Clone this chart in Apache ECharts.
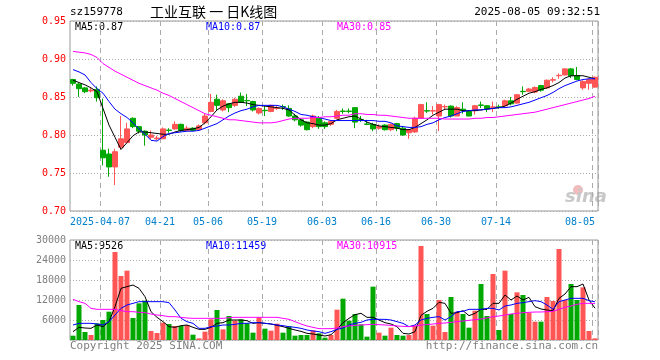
<!DOCTYPE html>
<html><head><meta charset="utf-8">
<script src="https://cdn.jsdelivr.net/npm/echarts@6/dist/echarts.min.js"></script>
<style>html,body{margin:0;padding:0;background:#fff}#c{width:660px;height:360px}</style>
</head><body><div id="c"></div>
<script>
const dates = ['2025-03-28','2025-03-31','2025-04-01','2025-04-02','2025-04-03','2025-04-07','2025-04-08','2025-04-09','2025-04-10','2025-04-11',
'2025-04-14','2025-04-15','2025-04-16','2025-04-17','2025-04-18','2025-04-21','2025-04-22','2025-04-23','2025-04-24','2025-04-25',
'2025-04-28','2025-04-29','2025-04-30','2025-05-06','2025-05-07','2025-05-08','2025-05-09','2025-05-12','2025-05-13','2025-05-14',
'2025-05-15','2025-05-16','2025-05-19','2025-05-20','2025-05-21','2025-05-22','2025-05-23','2025-05-26','2025-05-27','2025-05-28',
'2025-05-29','2025-05-30','2025-06-03','2025-06-04','2025-06-05','2025-06-06','2025-06-09','2025-06-10','2025-06-11','2025-06-12',
'2025-06-13','2025-06-16','2025-06-17','2025-06-18','2025-06-19','2025-06-20','2025-06-23','2025-06-24','2025-06-25','2025-06-26',
'2025-06-27','2025-06-30','2025-07-01','2025-07-02','2025-07-03','2025-07-04','2025-07-07','2025-07-08','2025-07-09','2025-07-10',
'2025-07-11','2025-07-14','2025-07-15','2025-07-16','2025-07-17','2025-07-18','2025-07-21','2025-07-22','2025-07-23','2025-07-24',
'2025-07-25','2025-07-28','2025-07-29','2025-07-30','2025-07-31','2025-08-01','2025-08-04','2025-08-05'];

const openP = [0.873,0.867,0.862,0.858,0.860,0.780,0.775,0.758,0.784,0.790,
0.822,0.811,0.805,0.797,0.795,0.795,0.8065,0.808,0.814,0.806,
0.809,0.807,0.816,0.831,0.847,0.833,0.841,0.839,0.851,0.8455,
0.844,0.829,0.8325,0.831,0.835,0.8375,0.835,0.825,0.820,0.817,
0.811,0.822,0.816,0.814,0.822,0.8315,0.8315,0.836,0.8205,0.8145,
0.814,0.809,0.813,0.807,0.815,0.809,0.803,0.804,0.822,0.832,
0.8315,0.825,0.837,0.838,0.825,0.834,0.831,0.832,0.8395,0.8385,
0.8365,0.837,0.8385,0.845,0.842,0.8575,0.8575,0.8565,0.865,0.862,
0.8722,0.878,0.879,0.887,0.878,0.862,0.868,0.863];
const closeP = [0.868,0.861,0.857,0.859,0.849,0.770,0.758,0.778,0.795,0.808,
0.811,0.805,0.800,0.800,0.796,0.808,0.806,0.814,0.806,0.809,
0.806,0.812,0.825,0.843,0.839,0.845,0.836,0.847,0.843,0.845,
0.833,0.835,0.832,0.839,0.8355,0.837,0.825,0.820,0.813,0.807,
0.825,0.811,0.811,0.818,0.831,0.831,0.831,0.817,0.820,0.814,
0.808,0.811,0.807,0.814,0.809,0.800,0.807,0.822,0.840,0.8315,
0.832,0.840,0.8375,0.825,0.836,0.832,0.825,0.8385,0.839,0.8345,
0.837,0.8365,0.845,0.841,0.853,0.857,0.8605,0.8625,0.859,0.872,
0.8728,0.8785,0.887,0.878,0.873,0.8705,0.873,0.876];
const lowP = [0.865,0.850,0.855,0.856,0.844,0.760,0.745,0.734,0.781,0.789,
0.809,0.802,0.786,0.794,0.793,0.795,0.803,0.807,0.804,0.805,
0.805,0.806,0.814,0.830,0.833,0.831,0.830,0.837,0.842,0.838,
0.831,0.827,0.825,0.830,0.833,0.833,0.824,0.818,0.811,0.806,
0.809,0.808,0.808,0.812,0.821,0.828,0.8285,0.809,0.817,0.813,
0.805,0.807,0.806,0.805,0.805,0.799,0.795,0.803,0.822,0.829,
0.827,0.805,0.834,0.823,0.825,0.828,0.8245,0.827,0.8355,0.830,
0.830,0.8345,0.8375,0.839,0.841,0.853,0.8565,0.855,0.857,0.8605,
0.869,0.874,0.8785,0.875,0.872,0.8595,0.8595,0.862];
const highP = [0.874,0.868,0.863,0.862,0.864,0.848,0.782,0.782,0.825,0.816,
0.823,0.812,0.806,0.806,0.799,0.810,0.809,0.818,0.815,0.812,
0.810,0.814,0.828,0.854,0.853,0.847,0.842,0.849,0.856,0.854,
0.845,0.836,0.838,0.840,0.838,0.840,0.839,0.828,0.822,0.818,
0.827,0.825,0.818,0.819,0.833,0.835,0.835,0.836,0.825,0.820,
0.816,0.814,0.814,0.815,0.816,0.811,0.808,0.824,0.841,0.843,
0.838,0.841,0.840,0.839,0.838,0.843,0.8325,0.8395,0.844,0.8395,
0.844,0.840,0.8465,0.850,0.854,0.864,0.862,0.864,0.866,0.873,
0.876,0.881,0.888,0.888,0.8895,0.872,0.874,0.877];

const ma5 = [0.872,0.869,0.866,0.862,0.857,0.835,0.813,0.797,0.781,0.790,
0.799,0.804,0.804,0.803,0.802,0.801,0.801,0.804,0.806,0.807,
0.808,0.810,0.816,0.824,0.833,0.838,0.841,0.843,0.843,0.842,
0.840,0.839,0.838,0.837,0.836,0.835,0.833,0.826,0.820,0.816,
0.815,0.813,0.813,0.815,0.820,0.822,0.824,0.825,0.821,0.817,
0.814,0.812,0.811,0.810,0.809,0.807,0.807,0.810,0.815,0.820,
0.826,0.830,0.834,0.834,0.834,0.832,0.832,0.832,0.833,0.834,
0.835,0.836,0.838,0.842,0.847,0.851,0.855,0.857,0.860,0.862,
0.865,0.869,0.875,0.878,0.878,0.878,0.876,0.874];
const ma10 = [0.886,0.883,0.879,0.869,0.861,0.855,0.844,0.834,0.828,0.823,
0.816,0.808,0.801,0.793,0.792,0.798,0.802,0.803,0.804,0.805,
0.805,0.806,0.809,0.812,0.815,0.820,0.825,0.829,0.832,0.834,
0.837,0.839,0.839,0.839,0.839,0.837,0.834,0.831,0.827,0.826,
0.824,0.823,0.821,0.819,0.819,0.819,0.819,0.819,0.819,0.819,
0.819,0.818,0.818,0.816,0.812,0.811,0.810,0.810,0.811,0.814,
0.816,0.820,0.823,0.825,0.828,0.831,0.832,0.833,0.833,0.834,
0.835,0.836,0.836,0.837,0.839,0.841,0.843,0.846,0.849,0.852,
0.856,0.861,0.865,0.868,0.871,0.873,0.874,0.874];
const ma30 = [0.910,0.909,0.908,0.906,0.902,0.894,0.889,0.884,0.880,0.876,
0.872,0.868,0.865,0.862,0.859,0.855,0.852,0.848,0.844,0.840,
0.836,0.832,0.828,0.826,0.824,0.822,0.820,0.820,0.819,0.818,
0.817,0.816,0.816,0.816,0.817,0.819,0.821,0.822,0.822,0.822,
0.823,0.823,0.824,0.824,0.825,0.826,0.826,0.828,0.828,0.827,
0.827,0.826,0.826,0.825,0.824,0.823,0.822,0.822,0.822,0.822,
0.822,0.822,0.821,0.821,0.821,0.821,0.821,0.822,0.822,0.823,
0.823,0.824,0.825,0.826,0.827,0.828,0.829,0.830,0.832,0.834,
0.836,0.838,0.840,0.842,0.844,0.846,0.848,0.851];

const volume = [1300,10500,2400,1500,5000,6000,8500,26400,19200,20800,
6600,11000,11800,2700,2100,5200,4800,4200,4200,4500,
1600,500,2500,6200,9000,3200,7200,5800,6200,5000,
2200,6800,3400,2800,4900,2200,4100,1300,1500,1500,
2900,2000,700,1500,9100,12400,5800,7800,4700,1000,
16000,2200,1300,3700,1500,1300,1500,4300,28200,7800,
4300,12000,2400,12900,8500,7800,3700,8800,16800,7200,
19800,3000,20800,7800,14300,13500,8200,5500,5500,12900,
11700,27300,12000,16800,12000,15800,2700,500];
const vma5 = [2500,3800,3600,3500,4500,4000,5500,10000,15500,16000,
16500,15500,13000,8500,6800,5500,4000,3800,4300,4500,
3800,3200,3200,3800,5000,5200,6000,6000,6000,5800,
5000,5200,5000,4800,4400,4000,3500,3000,2600,2000,
1800,1500,1200,1600,3200,5200,6500,7600,8000,6800,
6800,6000,5200,4800,4000,2000,1800,2500,7400,8600,
9500,11300,11000,8000,8200,8800,7300,8000,9200,9200,
11000,11000,13500,12000,13200,12000,12800,10000,9300,9000,
8800,12500,13800,16000,16000,16800,12000,9526];
const vma10 = [4500,5000,5000,5000,4800,4500,5500,7500,9500,10500,
11000,11500,11500,11500,11500,11500,11200,9000,6500,5500,
5000,3500,3500,4000,4200,4500,4500,4700,5000,5000,
5200,5200,5000,4800,4500,4300,4000,3800,3500,3000,
2700,2500,2000,2500,3200,3600,4500,5000,5300,6000,
6200,6200,6200,6000,5500,5000,4000,4500,6000,6500,
6800,7000,6000,7000,8500,8600,9200,9200,9200,9500,
9500,9000,10200,10500,11000,11200,11500,11800,11500,10500,
9200,11500,12000,12500,12500,12500,11800,11459];
const vma30 = [12200,11500,11000,9500,9200,9200,9200,9200,8800,8500,
8500,8300,8200,7800,7500,7300,7000,7000,6800,6600,
6500,6500,6500,6500,6500,6500,6700,6800,6800,6800,
6800,6800,6800,6800,6800,6500,6200,5500,4800,4200,
3800,3400,3400,3400,3600,4000,4200,4400,4500,4600,
4700,4600,4500,4400,4200,4100,4000,4200,4500,4600,
4800,5000,5100,5300,5500,5700,5900,6100,6300,6600,
7000,7200,7500,7800,8000,8200,8300,8400,8400,8500,
8600,9200,9800,10200,10700,11000,11000,10915];

const labelIdx = [5,15,23,32,42,51,61,71,87];
const priceLegend = ['MA5:0.87','MA10:0.87','MA30:0.85'];
const volLegend = ['MA5:9526','MA10:11459','MA30:10915'];
const code = 'sz159778';
const titleText = '工业互联 一 日K线图';
const stamp = '2025-08-05 09:32:51';

const RED = '#ff5555', GREEN = '#00a800';
const MONO = 'DejaVu Sans Mono';
const GL = 70, GW = 528;

const chart = echarts.init(document.getElementById('c'), null, {renderer:'canvas'});

function xAxisFor(gi, showLabel) {
  return {
    type:'category', gridIndex: gi, data: dates, boundaryGap: true,
    axisLine:{show:false}, axisTick:{show:false},
    axisLabel: showLabel ? {
      show:true, interval:(i)=>labelIdx.includes(i), color:'#0080cc', fontFamily:MONO, fontSize:10, margin:6,
      formatter:(v,i)=> {
        const t = (i === labelIdx[0]) ? v : v.slice(5);
        return i === dates.length-1 ? '{q|'+t+'}' : '{p|'+t+'}';
      },
      rich:{
        p:{color:'#0080cc', fontFamily:MONO, fontSize:10, padding:[0,6,0,0]},
        q:{color:'#0080cc', fontFamily:MONO, fontSize:10, padding:[0,30,0,0]}
      }
    } : {show:false},
    splitLine:{show:true, interval:(i)=>labelIdx.includes(i), lineStyle:{color:'#aaaaaa', type:[5,4], width:1}}
  };
}

const legendText = (arr, y) => arr.map((t,k)=>({
  type:'text', left:[75,206,337][k], top:y,
  style:{text:t, fill:['#000000','#0000ff','#ff00ff'][k], font:'10px "'+MONO+'"'}
}));

const option = {
  animation:false,
  backgroundColor:'#ffffff',
  grid:[
    {left:GL, width:GW, top:21, height:190, show:true, borderColor:'#999999', borderWidth:1, backgroundColor:'transparent'},
    {left:GL, width:GW, top:240, height:100, show:true, borderColor:'#999999', borderWidth:1, backgroundColor:'transparent'}
  ],
  xAxis:[xAxisFor(0,true), xAxisFor(1,false)],
  yAxis:[
    {type:'value', gridIndex:0, min:0.70, max:0.95, interval:0.05, axisLine:{show:false}, axisTick:{show:false},
     axisLabel:{color:'#ff0000', fontFamily:MONO, fontSize:10, margin:4, formatter:(v)=>v.toFixed(2)},
     splitLine:{lineStyle:{color:'#aaaaaa', type:[1,2]}}},
    {type:'value', gridIndex:1, min:0, max:30000, interval:6000, axisLine:{show:false}, axisTick:{show:false},
     axisLabel:{color:'#808080', fontFamily:MONO, fontSize:10, margin:4, formatter:(v)=> v===0 ? '' : String(v)},
     splitLine:{lineStyle:{color:'#aaaaaa', type:[1,2]}}}
  ],
  series:[
    {type:'candlestick', xAxisIndex:0, yAxisIndex:0, barWidth:5,
     data: dates.map((d,i)=>[openP[i], closeP[i], lowP[i], highP[i]]),
     itemStyle:{color:RED, color0:GREEN, borderColor:RED, borderColor0:GREEN, borderWidth:1}},
    {type:'line', xAxisIndex:0, yAxisIndex:0, data:ma5, showSymbol:false, lineStyle:{color:'#000000', width:1}, itemStyle:{color:'#000000'}},
    {type:'line', xAxisIndex:0, yAxisIndex:0, data:ma10, showSymbol:false, lineStyle:{color:'#0000ff', width:1}, itemStyle:{color:'#0000ff'}},
    {type:'line', xAxisIndex:0, yAxisIndex:0, data:ma30, showSymbol:false, lineStyle:{color:'#ff00ff', width:1}, itemStyle:{color:'#ff00ff'}},
    {type:'bar', xAxisIndex:1, yAxisIndex:1, barWidth:5,
     data: volume.map((v,i)=>({value:v, itemStyle:{color: closeP[i] >= openP[i] ? RED : GREEN}}))},
    {type:'line', xAxisIndex:1, yAxisIndex:1, data:vma5, showSymbol:false, lineStyle:{color:'#000000', width:1}, itemStyle:{color:'#000000'}},
    {type:'line', xAxisIndex:1, yAxisIndex:1, data:vma10, showSymbol:false, lineStyle:{color:'#0000ff', width:1}, itemStyle:{color:'#0000ff'}},
    {type:'line', xAxisIndex:1, yAxisIndex:1, data:vma30, showSymbol:false, lineStyle:{color:'#ff00ff', width:1}, itemStyle:{color:'#ff00ff'}}
  ],
  graphic:[
    {type:'text', left:70, top:7, style:{text:code, fill:'#000', font:'11px "'+MONO+'"'}},
    {type:'text', left:150, top:5, style:{text:titleText, fill:'#000', font:'14px "Noto Sans CJK SC"'}},
    {type:'text', right:60, top:7, style:{text:stamp, fill:'#000', font:'11px "'+MONO+'"'}},
    ...legendText(priceLegend, 22),
    ...legendText(volLegend, 241),
    {type:'text', left:70, top:341, style:{text:'Copyright 2025 SINA.COM', fill:'#808080', font:'11px "'+MONO+'"'}},
    {type:'text', right:62, top:341, style:{text:'http://finance.sina.com.cn', fill:'#808080', font:'11px "'+MONO+'"'}},
    {type:'circle', shape:{cx:578, cy:190, r:5}, z:-2, style:{fill:'#f0bcbc'}},
    {type:'text', left:565, top:188, z:-1, style:{text:'sina', fill:'#c8c8c8', font:'italic bold 18px "DejaVu Sans"'}}
  ]
};
chart.setOption(option);
</script></body></html>
